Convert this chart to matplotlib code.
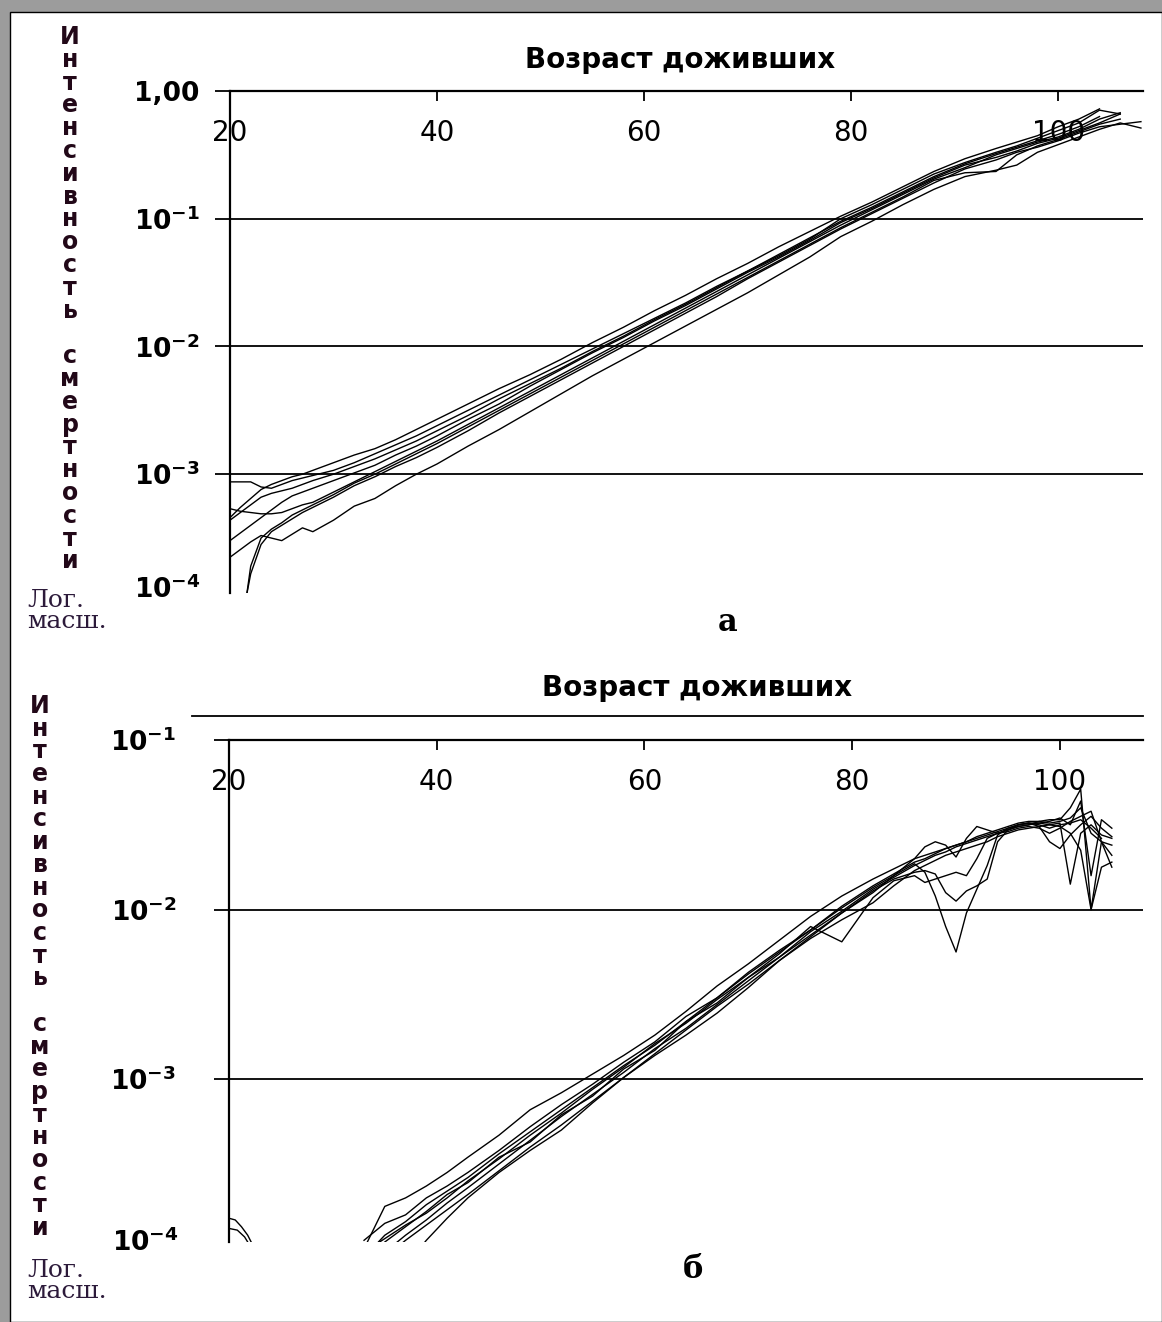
import numpy as np
import matplotlib
matplotlib.use('Agg')
import matplotlib.pyplot as plt
from matplotlib.patches import Rectangle
from matplotlib.lines import Line2D
from matplotlib.ticker import NullLocator

plt.rcParams['font.family'] = ['DejaVu Sans']
plt.rcParams['mathtext.fontset'] = 'dejavusans'

nan = np.nan

# ---------------- data (log10 of death rate) -------------
X_TICKS = [20, 40, 60, 80, 100]

T_AGES = [20, 21, 22, 23, 24, 25, 26, 27, 28, 30, 32, 34, 36, 38, 40, 43, 46, 49,
          52, 55, 58, 61, 64, 67, 70, 73, 76, 79, 82, 85, 88, 91, 94, 96, 98, 100,
          102, 104, 106, 108]
T1 = [-3.06, -3.06, -3.06, -3.10, -3.11, -3.08, -3.05, -3.03, -3.01, -2.97, -2.91, -2.84,
      -2.77, -2.70, -2.62, -2.50, -2.38, -2.26, -2.14, -2.02, -1.90, -1.78, -1.66, -1.53,
      -1.41, -1.28, -1.15, -1.02, -0.91, -0.79, -0.67, -0.57, -0.49, -0.44, -0.39, -0.34,
      -0.28, -0.20, nan, nan]
T2 = [-3.34, -3.26, -3.19, -3.12, -3.08, -3.05, -3.02, -3.00, -2.97, -2.91, -2.85, -2.80,
      -2.73, -2.65, -2.57, -2.45, -2.33, -2.22, -2.10, -1.97, -1.85, -1.72, -1.60, -1.47,
      -1.35, -1.22, -1.10, -0.98, -0.87, -0.75, -0.63, -0.53, -0.45, -0.40, -0.35, -0.28,
      -0.22, -0.14, nan, nan]
T3 = [-3.27, -3.29, -3.30, -3.31, -3.31, -3.30, -3.27, -3.24, -3.22, -3.14, -3.06, -2.98,
      -2.90, -2.82, -2.74, -2.61, -2.48, -2.35, -2.22, -2.09, -1.96, -1.83, -1.70, -1.57,
      -1.44, -1.31, -1.18, -1.05, -0.93, -0.81, -0.69, -0.60, -0.50, -0.45, -0.40, -0.36,
      -0.30, -0.22, -0.17, nan]
T4 = [-3.52, -3.46, -3.40, -3.34, -3.28, -3.22, -3.17, -3.14, -3.11, -3.05, -2.99, -2.93,
      -2.85, -2.78, -2.70, -2.57, -2.45, -2.31, -2.18, -2.05, -1.93, -1.80, -1.68, -1.55,
      -1.42, -1.30, -1.17, -1.03, -0.92, -0.80, -0.68, -0.58, -0.52, -0.47, -0.41, -0.37,
      -0.31, -0.25, -0.18, nan]
T5 = [-3.65, -3.59, -3.53, -3.48, -3.50, -3.52, -3.47, -3.42, -3.45, -3.36, -3.25, -3.19,
      -3.09, -3.00, -2.92, -2.78, -2.65, -2.51, -2.37, -2.23, -2.10, -1.97, -1.84, -1.71,
      -1.58, -1.44, -1.30, -1.14, -1.02, -0.89, -0.77, -0.67, -0.62, -0.58, -0.48, -0.42,
      -0.36, -0.30, -0.25, -0.29]
T6 = [nan, -4.30, -3.72, -3.50, -3.43, -3.38, -3.32, -3.28, -3.24, -3.16, -3.07, -3.00,
      -2.92, -2.84, -2.76, -2.63, -2.50, -2.37, -2.24, -2.11, -1.98, -1.85, -1.72, -1.59,
      -1.46, -1.33, -1.20, -1.07, -0.95, -0.83, -0.70, -0.64, -0.63, -0.50, -0.43, -0.38,
      -0.32, -0.26, -0.22, nan]
T7 = [nan, -4.20, -3.78, -3.55, -3.45, -3.40, -3.35, -3.30, -3.26, -3.18, -3.09, -3.02,
      -2.94, -2.87, -2.79, -2.66, -2.52, -2.39, -2.26, -2.13, -2.00, -1.87, -1.74, -1.61,
      -1.47, -1.34, -1.21, -1.08, -0.96, -0.84, -0.72, -0.61, -0.54, -0.48, -0.44, -0.39,
      -0.33, -0.28, -0.26, -0.24]
T8 = [-3.36, -3.30, -3.24, -3.18, -3.15, -3.13, -3.11, -3.08, -3.05, -3.00, -2.94, -2.88,
      -2.81, -2.74, -2.66, -2.54, -2.41, -2.29, -2.17, -2.04, -1.92, -1.79, -1.67, -1.54,
      -1.41, -1.29, -1.16, -1.00, -0.89, -0.77, -0.65, -0.56, -0.48, -0.43, -0.37, -0.31,
      -0.25, -0.15, -0.18, nan]
TOP_CURVES = [T1, T2, T3, T4, T5, T6, T7, T8]

B_AGES = [33, 35, 37, 39, 41, 43, 46, 49, 52, 55, 58, 61, 64, 67, 70, 73, 76, 79, 82, 84,
          86, 87, 88, 89, 90, 91, 92, 93, 94, 95, 96, 97, 98, 99, 100, 101, 102, 103, 104, 105]
B1 = [-4.00, -3.75, -3.70, -3.63, -3.55, -3.46, -3.33, -3.18, -3.08, -2.97, -2.86, -2.74,
      -2.60, -2.45, -2.32, -2.18, -2.04, -1.92, -1.82, -1.76, -1.70, -1.68, -1.66, -1.64,
      -1.62, -1.60, -1.57, -1.55, -1.53, -1.51, -1.49, -1.48, -1.48, -1.49, -1.48, -1.46,
      -1.40, -1.55, -1.60, -1.62]
B2 = [-4.05, -3.92, -3.84, -3.74, -3.66, -3.58, -3.44, -3.31, -3.18, -3.05, -2.92, -2.80,
      -2.66, -2.52, -2.38, -2.25, -2.12, -1.99, -1.87, -1.80, -1.73, -1.78, -1.92, -2.10,
      -2.25, -2.02, -1.88, -1.74, -1.56, -1.52, -1.50, -1.49, -1.50, -1.52, -1.50, -1.49,
      -1.47, -1.52, -1.58, nan]
B3 = [-4.12, -4.02, -3.92, -3.83, -3.73, -3.64, -3.50, -3.36, -3.22, -3.09, -2.96, -2.82,
      -2.70, -2.56, -2.42, -2.28, -2.15, -2.02, -1.89, -1.82, -1.78, -1.77, -1.79, -1.90,
      -1.95, -1.89, -1.86, -1.82, -1.60, -1.53, -1.51, -1.50, -1.49, -1.50, -1.49, -1.85,
      -1.55, -1.50, -1.56, -1.58]
B4 = [-4.15, -4.05, -3.95, -3.86, -3.77, -3.68, -3.54, -3.40, -3.27, -3.13, -2.99, -2.85,
      -2.71, -2.57, -2.44, -2.30, -2.16, -2.02, -1.90, -1.80, -1.70, -1.63, -1.60, -1.62,
      -1.69, -1.58, -1.51, -1.53, -1.55, -1.53, -1.50, -1.49, -1.51, -1.60, -1.64, -1.56,
      -1.50, -1.45, -1.52, -1.57]
B5 = [nan, nan, -4.10, -3.95, -3.82, -3.70, -3.55, -3.42, -3.30, -3.14, -2.99, -2.86,
      -2.74, -2.61, -2.46, -2.30, -2.17, -2.06, -1.96, -1.86, -1.77, -1.74, -1.71, -1.68,
      -1.66, -1.64, -1.62, -1.60, -1.57, -1.55, -1.53, -1.52, -1.51, -1.50, -1.51, -1.55,
      -1.65, -2.00, -1.75, -1.72]
B6 = [-4.02, -3.94, -3.86, -3.79, -3.70, -3.60, -3.47, -3.33, -3.20, -3.06, -2.93, -2.79,
      -2.67, -2.53, -2.40, -2.26, -2.10, -2.19, -1.93, -1.83, -1.80, -1.84, -1.82, -1.80,
      -1.78, -1.80, -1.70, -1.58, -1.55, -1.54, -1.52, -1.51, -1.52, -1.55, -1.52, -1.48,
      -1.45, -1.42, -1.60, -1.75]
B7 = [-4.08, -3.96, -3.87, -3.78, -3.68, -3.61, -3.46, -3.37, -3.21, -3.10, -2.94, -2.83,
      -2.66, -2.55, -2.40, -2.28, -2.13, -2.01, -1.88, -1.81, -1.74, -1.71, -1.68, -1.66,
      -1.63, -1.61, -1.59, -1.57, -1.55, -1.53, -1.51, -1.50, -1.48, -1.47, -1.47, -1.40,
      -1.29, -2.00, -1.60, -1.68]
B8 = [-3.95, -3.85, -3.80, -3.70, -3.63, -3.55, -3.42, -3.28, -3.15, -3.03, -2.90, -2.78,
      -2.63, -2.52, -2.37, -2.24, -2.12, -1.98, -1.86, -1.79, -1.72, -1.70, -1.67, -1.64,
      -1.62, -1.60, -1.58, -1.56, -1.54, -1.52, -1.50, -1.49, -1.49, -1.48, -1.46, -1.50,
      -1.36, -1.80, -1.47, -1.52]
BOTTOM_CURVES = [B1, B2, B3, B4, B5, B6, B7, B8]

CHILD_AGES_1 = [20.0, 20.6, 21.2, 21.8, 22.3]
CHILD_VALS_1 = [-3.82, -3.83, -3.87, -3.92, -3.98]
CHILD_AGES_2 = [20.0, 20.8, 21.5, 22.0]
CHILD_VALS_2 = [-3.88, -3.89, -3.93, -3.98]

TITLE = 'Возраст доживших'
YLAB1 = 'Интенсивность'
YLAB2 = 'смертности'
SCALE_NOTE = 'Лог.\nмасш.'

# ---------------- figure ----------------
W, H = 1162, 1322
fig = plt.figure(figsize=(W / 100, H / 100), dpi=100)
fig.patch.set_facecolor('#9c9c9c')
fig.add_artist(Rectangle((10 / W, 0), 1 - 10 / W, 1 - 12 / H, transform=fig.transFigure,
                         facecolor='white', edgecolor='black', lw=1.0, zorder=0))


def fx(px):
    return px / W


def fy(py):
    return 1 - py / H


def setup(ax, ylow, yhigh, yticks, ylabels, ypad, xmax):
    ax.set_yscale('log')
    ax.set_xlim(20, xmax)
    ax.set_ylim(ylow, yhigh)
    ax.patch.set_alpha(0)
    for s in ('right', 'bottom'):
        ax.spines[s].set_visible(False)
    for s in ('top', 'left'):
        ax.spines[s].set_linewidth(1.6)
        ax.spines[s].set_color('black')
    ax.xaxis.set_ticks_position('top')
    ax.set_xticks(X_TICKS)
    ax.set_xticklabels([str(v) for v in X_TICKS])
    ax.tick_params(axis='x', which='both', direction='in', length=7, width=1.3,
                   labelsize=20, pad=-40, top=True, bottom=False,
                   labeltop=True, labelbottom=False)
    ax.yaxis.set_minor_locator(NullLocator())
    ax.set_yticks(yticks)
    ax.set_yticklabels(ylabels)
    ax.tick_params(axis='y', which='major', direction='out', length=11, width=1.3,
                   labelsize=19, pad=ypad)
    for lab in ax.get_yticklabels():
        lab.set_fontweight('bold')
    ax.grid(axis='y', which='major', color='black', lw=1.3)
    ax.grid(axis='x', visible=False)


# top panel
ax1 = fig.add_axes([fx(230), fy(593), (1143 - 230) / W, (593 - 91) / H])
setup(ax1, 10 ** -3.93, 1.0, [1e-3, 1e-2, 1e-1, 1.0],
      [r'$\mathbf{10^{-3}}$', r'$\mathbf{10^{-2}}$', r'$\mathbf{10^{-1}}$', '1,00'],
      11, 108.2)
for c in TOP_CURVES:
    ax1.plot(T_AGES, 10.0 ** np.array(c), color='black', lw=1.0)

# bottom panel
ax2 = fig.add_axes([fx(229), fy(1242), (1143 - 229) / W, (1242 - 740) / H])
setup(ax2, 10 ** -3.96, 0.1, [1e-3, 1e-2, 1e-1],
      [r'$\mathbf{10^{-3}}$', r'$\mathbf{10^{-2}}$', r'$\mathbf{10^{-1}}$'],
      27, 108.0)
for c in BOTTOM_CURVES:
    ax2.plot(B_AGES, 10.0 ** np.array(c), color='black', lw=1.0)
ax2.plot(CHILD_AGES_1, 10.0 ** np.array(CHILD_VALS_1), color='black', lw=1.0)
ax2.plot(CHILD_AGES_2, 10.0 ** np.array(CHILD_VALS_2), color='black', lw=1.0)

# extra line above bottom panel
fig.add_artist(Line2D([fx(192), fx(1143)], [fy(716), fy(716)], color='black', lw=1.3,
                      transform=fig.transFigure))

# 10^-4 labels at the bottom of each panel
fig.text(fx(200), fy(590), r'$\mathbf{10^{-4}}$', ha='right', va='center', fontsize=19)
fig.text(fx(178), fy(1243), r'$\mathbf{10^{-4}}$', ha='right', va='center', fontsize=19)

# titles
fig.text(fx(680), fy(60), TITLE, ha='center', va='center', fontsize=20, fontweight='bold')
fig.text(fx(697), fy(688), TITLE, ha='center', va='center', fontsize=20, fontweight='bold')

# vertical stacked y labels
lab_color = '#220818'


def stacked(xc, ytop, dy):
    letters = list(YLAB1) + [' '] + list(YLAB2)
    for i, ch in enumerate(letters):
        if ch == ' ':
            continue
        fig.text(fx(xc), fy(ytop + i * dy), ch, ha='center', va='center',
                 fontsize=17, fontweight='bold', color=lab_color)


stacked(70, 37, 22.8)
stacked(40, 706, 22.7)

# log scale notes
for (x0, y0) in [(27, 611), (27, 1281)]:
    fig.text(fx(x0), fy(y0), SCALE_NOTE, ha='left', va='center', fontsize=18,
             family=['DejaVu Serif'], color='#2c1a3a', linespacing=0.9)

# panel letters
fig.text(fx(728), fy(623), 'а', ha='center', va='center', fontsize=22, fontweight='bold',
         family=['DejaVu Serif'])
fig.text(fx(693), fy(1270), 'б', ha='center', va='center', fontsize=22, fontweight='bold',
         family=['DejaVu Serif'])

fig.savefig('out.png', dpi=100, facecolor=fig.get_facecolor())
